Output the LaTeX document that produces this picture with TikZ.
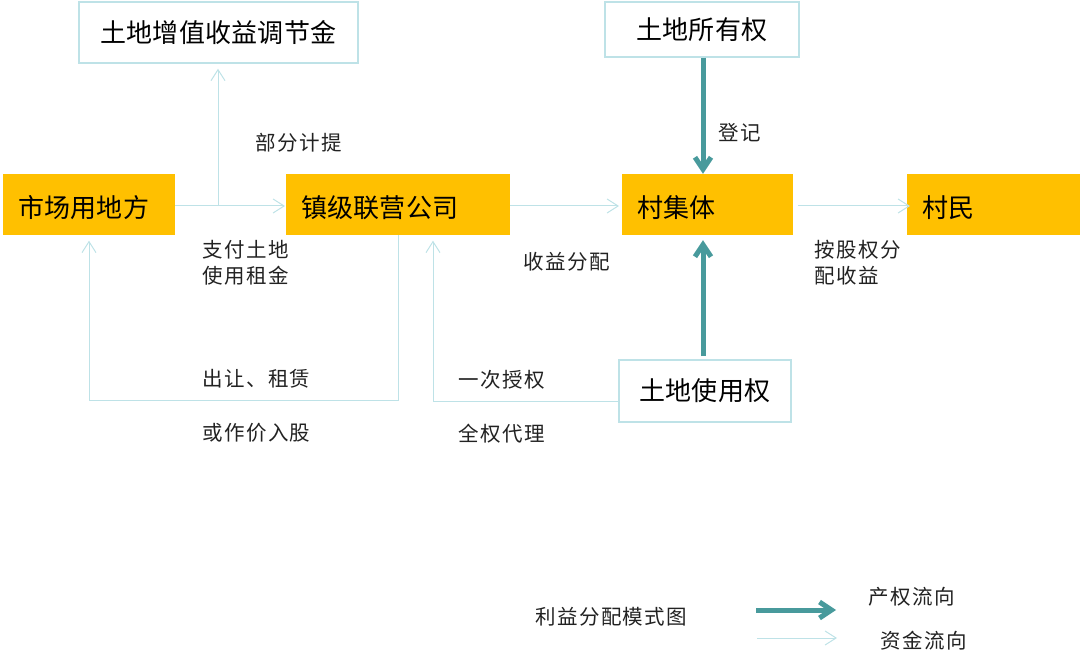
\documentclass[tikz,border=0pt]{standalone}
\usepackage{fontspec}
\setmainfont{Noto Sans CJK SC}
\newfontfamily\boxfont{Noto Sans CJK SC}[LetterSpace=1]
\newfontfamily\lblfont{Noto Sans CJK SC}[LetterSpace=7]
\usetikzlibrary{arrows.meta}
\definecolor{jin}{RGB}{255,192,0}
\definecolor{qing}{RGB}{72,154,156}
\definecolor{danqing}{RGB}{190,226,231}
\definecolor{zi}{RGB}{34,34,34}
\begin{document}
	\begin{tikzpicture}[x=1pt,y=-1pt,
		ybox/.style={fill=jin, anchor=west, minimum height=61pt, inner xsep=15pt, inner ysep=0pt, text width=#1, text height=28pt, text depth=2pt, align=left, font=\boxfont\fontsize{26}{30}\selectfont},
		wbox/.style={draw=danqing, line width=1.5pt, fill=white, minimum width=#1, inner sep=0pt, font=\boxfont\fontsize{26}{30}\selectfont},
		lbl/.style={anchor=west, inner sep=0pt, text=zi, align=left, font=\lblfont\fontsize{20.5}{26}\selectfont},
		fund/.style={draw=danqing, line width=1pt, -{Straight Barb[length=11pt,width=14pt]}},
		prop/.style={draw=qing, line width=5pt, -{Straight Barb[length=12pt,width=16pt]}}]
		\useasboundingbox (0,0) rectangle (1080,660);
		\node[ybox=142pt] (shichang) at (3,204.5) {市场用地方};
		\node[ybox=194pt] (zhen) at (286,204.5) {镇级联营公司};
		\node[ybox=141pt] (cunjiti) at (622,204.5) {村集体};
		\node[ybox=143pt] (cunmin) at (907,204.5) {村民};
		\node[wbox=279pt, minimum height=61pt] (tiaojie) at (218.5,32.5) {土地增值收益调节金};
		\node[wbox=194pt, minimum height=55pt] (suoyou) at (702,29.5) {土地所有权};
		\node[wbox=172pt, minimum height=62pt] (shiyong) at (705,391) {土地使用权};
		\coordinate (fen) at (218,206);
		\coordinate (c1) at (398,400.5);
		\coordinate (c2) at (89,400.5);
		\coordinate (c3) at (433,401.5);
		\draw[fund, shorten >=1pt] (shichang.east |- fen) -- (zhen.west |- fen);
		\draw[fund, shorten >=5pt] (fen) -- (tiaojie.south -| fen);
		\draw[fund, shorten >=3pt] (zhen.east |- fen) -- (cunjiti.west |- fen);
		\draw[fund, shorten <=5pt, shorten >=-3pt] (cunjiti.east |- fen) -- (cunmin.west |- fen);
		\draw[fund, shorten >=5.5pt] (zhen.south -| c1) |- (c2) -- (shichang.south -| c2);
		\draw[fund, shorten >=5.5pt] (shiyong.west |- c3) -| (zhen.south -| c3);
		\draw[prop] (suoyou.south -| 703,0) -- (cunjiti.north -| 703,0);
		\draw[prop, shorten <=3pt, shorten >=5pt] (shiyong.north -| 703,0) -- (cunjiti.south -| 703,0);
		\node[lbl] (jiti) at (255,143) {部分计提};
		\node[lbl, anchor=north west] (zhifu) at (202,240) {支付土地\\使用租金};
		\node[lbl] (churang) at (202,379) {出让、租赁};
		\node[lbl] (zuojia) at (202,433) {或作价入股};
		\node[lbl] (shouyi) at (523,262) {收益分配};
		\node[lbl] (yici) at (458,380) {一次授权};
		\node[lbl] (quanquan) at (458,434) {全权代理};
		\node[lbl] (dengji) at (718,133) {登记};
		\node[lbl, anchor=north west] (anfen) at (814,240) {按股权分\\配收益};
		\node[lbl] (tuming) at (535,617) {利益分配模式图};
		\coordinate (t1) at (756,610);
		\coordinate (t2) at (836,610);
		\coordinate (t3) at (757,638);
		\coordinate (t4) at (837,638);
		\draw[prop] (t1) -- (t2);
		\draw[fund] (t3) -- (t4);
		\node[lbl] (chanquan) at (868,597) {产权流向};
		\node[lbl] (zijin) at (880,641) {资金流向};
	\end{tikzpicture}
\end{document}
